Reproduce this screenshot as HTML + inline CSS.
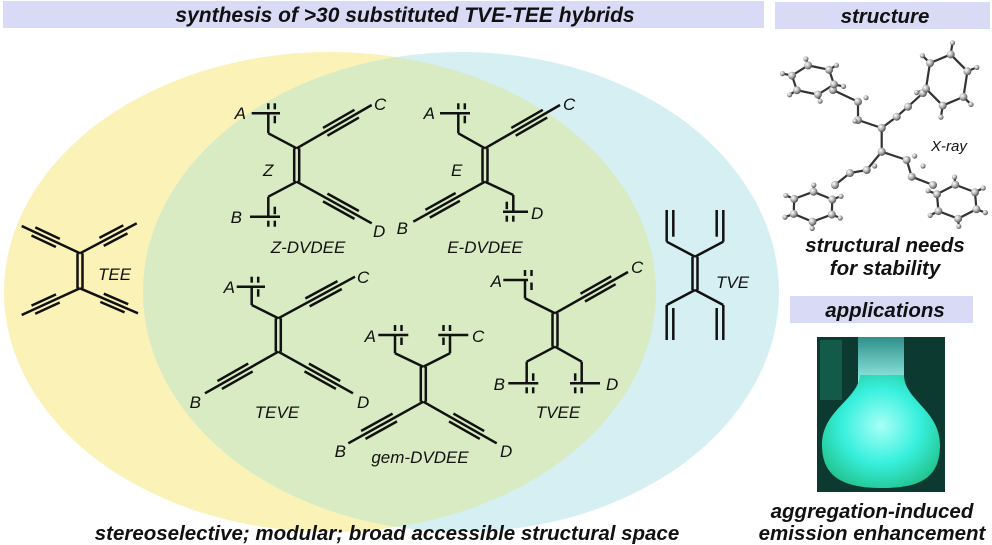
<!DOCTYPE html>
<html><head><meta charset="utf-8">
<style>
html,body{margin:0;padding:0;background:#fff;}
body{width:992px;height:545px;overflow:hidden;position:relative;font-family:"Liberation Sans",sans-serif;}
svg{position:absolute;left:0;top:0;}
text{font-family:"Liberation Sans",sans-serif;font-style:italic;}
.l{font-size:17px;fill:#111;}
.h{font-size:20.5px;font-weight:bold;fill:#111;}
</style></head>
<body>
<svg id="s" width="992" height="545" viewBox="0 0 992 545">
<defs>
<radialGradient id="ball" cx="35%" cy="35%" r="65%"><stop offset="0" stop-color="#fff"/><stop offset="0.6" stop-color="#aaa"/><stop offset="1" stop-color="#555"/></radialGradient>
<radialGradient id="glow" cx="50%" cy="45%" r="60%"><stop offset="0" stop-color="#a8fff6"/><stop offset="0.55" stop-color="#38f0de"/><stop offset="1" stop-color="#22c48e"/></radialGradient>
<linearGradient id="neck" x1="0" y1="0" x2="0" y2="1"><stop offset="0" stop-color="#2f8f8a"/><stop offset="1" stop-color="#9ff5ee"/></linearGradient>
<clipPath id="yc"><ellipse cx="330" cy="292" rx="326" ry="240"/></clipPath>
</defs>
<ellipse cx="330" cy="292" rx="326" ry="240" fill="#fbf2b8"/>
<ellipse cx="461" cy="292" rx="318" ry="240" fill="#d6eff2"/>
<ellipse cx="461" cy="292" rx="318" ry="240" fill="#d8ebc2" clip-path="url(#yc)"/>
<rect x="3" y="1" width="761" height="27" fill="#d9daf6"/>
<text class="h" x="405" y="22" text-anchor="middle" style="font-size:21px">synthesis of &gt;30 substituted TVE-TEE hybrids</text>
<rect x="775" y="2" width="215" height="27" fill="#d9daf6"/>
<text class="h" x="885" y="23" text-anchor="middle">structure</text>
<rect x="790" y="296" width="183" height="27" fill="#d9daf6"/>
<text class="h" x="885" y="317" text-anchor="middle">applications</text>
<text class="h" x="885" y="252" text-anchor="middle">structural needs</text>
<text class="h" x="885" y="275" text-anchor="middle">for stability</text>
<text class="h" x="872" y="518" text-anchor="middle">aggregation-induced</text>
<text class="h" x="872" y="540" text-anchor="middle">emission enhancement</text>
<text class="h" x="387" y="540" text-anchor="middle">stereoselective; modular; broad accessible structural space</text>
<text class="l" x="931" y="151" style="font-size:15px">X-ray</text>
<!-- flask photo -->
<rect x="817" y="337" width="128" height="155" fill="#0c3a30"/>
<rect x="820" y="340" width="22" height="60" fill="#145a48"/>
<rect x="858" y="337" width="46" height="50" fill="url(#neck)"/>
<path d="M860 375 C 858 400, 822 410, 822 445 C 822 478, 845 488, 882 488 C 920 488, 940 478, 940 445 C 940 410, 904 400, 904 375 Z" fill="url(#glow)"/>
<g id="mol" stroke="#111" stroke-width="2.5" fill="none" stroke-linecap="butt"></g>
<g id="xr"></g>
<g>
<text class="l" x="246" y="119" text-anchor="end">A</text>
<text class="l" x="374" y="110">C</text>
<text class="l" x="242" y="223" text-anchor="end">B</text>
<text class="l" x="373" y="237">D</text>
<text class="l" x="263" y="176">Z</text>
<text class="l" x="308" y="253" text-anchor="middle">Z-DVDEE</text>
<text class="l" x="435" y="119" text-anchor="end">A</text>
<text class="l" x="563" y="110">C</text>
<text class="l" x="408" y="234" text-anchor="end">B</text>
<text class="l" x="531" y="219">D</text>
<text class="l" x="451" y="176">E</text>
<text class="l" x="485" y="253" text-anchor="middle">E-DVDEE</text>
<text class="l" x="235" y="293" text-anchor="end">A</text>
<text class="l" x="357" y="283">C</text>
<text class="l" x="201" y="408" text-anchor="end">B</text>
<text class="l" x="357" y="408">D</text>
<text class="l" x="277" y="418" text-anchor="middle">TEVE</text>
<text class="l" x="376" y="342" text-anchor="end">A</text>
<text class="l" x="472" y="342">C</text>
<text class="l" x="346" y="457" text-anchor="end">B</text>
<text class="l" x="500" y="457">D</text>
<text class="l" x="420" y="463" text-anchor="middle">gem-DVDEE</text>
<text class="l" x="502" y="287" text-anchor="end">A</text>
<text class="l" x="631" y="273">C</text>
<text class="l" x="505" y="390" text-anchor="end">B</text>
<text class="l" x="606" y="390">D</text>
<text class="l" x="558" y="418" text-anchor="middle">TVEE</text>
<text class="l" x="98" y="280">TEE</text>
<text class="l" x="716" y="288">TVE</text>
</g>
</svg>
<script>
var g=document.getElementById('mol'),out='';
function L(a,b,c,d){out+='<line x1="'+a.toFixed(1)+'" y1="'+b.toFixed(1)+'" x2="'+c.toFixed(1)+'" y2="'+d.toFixed(1)+'"/>';}
function tri(x1,y1,x2,y2){L(x1,y1,x2,y2);var dx=x2-x1,dy=y2-y1,l=Math.hypot(dx,dy),nx=-dy/l*4.5,ny=dx/l*4.5;
 var a=0.38,b=0.8;[1,-1].forEach(function(s){L(x1+dx*a+s*nx,y1+dy*a+s*ny,x1+dx*b+s*nx,y1+dy*b+s*ny);});}
function dbl(x1,y1,x2,y2){L(x1-2.5,y1,x2-2.5,y2);L(x1+2.5,y1,x2+2.5,y2);}
function vin(cx,cy,px,py,by,bx1,bx2){L(cx,cy,px,py);var dir=by<py?-1:1;var off=(cx>px?1:-1)*6.5;
 L(px,py,px,by);L(bx1,by,bx2,by);L(px+off,by-dir*2.5,px+off,by-dir*10);
 L(px,by+dir*4,px,by+dir*10);L(px+off,by+dir*4,px+off,by+dir*10);}
dbl(296.7,148.3,296.7,181.7);vin(296.7,148.3,268.3,133.3,113.3,251.7,280);tri(296.7,148.3,371.7,105);
vin(296.7,181.7,268.3,196.7,216.7,250,280);tri(296.7,181.7,371.7,223.3);
dbl(485,148.3,485,181.7);vin(485,148.3,458.3,133.3,113.3,440,470);tri(485,148.3,560,105);
tri(485,181.7,413.3,221.7);vin(485,181.7,513.3,195,211.7,503,528);
dbl(278.3,318.3,278.3,351.7);vin(278.3,318.3,251.7,305,286.7,236.7,265);tri(278.3,318.3,355,276.7);
tri(278.3,351.7,205,393.3);tri(278.3,351.7,353,393.3);
dbl(423.3,366.7,423.3,401.7);vin(423.3,366.7,395,353.3,335,378.3,408.3);vin(423.3,366.7,450,353.3,335,438.3,468.3);
tri(423.3,401.7,348.3,443.3);tri(423.3,401.7,496.7,443.3);
dbl(555,313.3,555,346.7);vin(555,313.3,525,298.3,280,503.3,528);tri(555,313.3,628,272);
vin(555,346.7,526.7,361.7,383.3,508.3,538.3);vin(555,346.7,581.7,361.7,383.3,570,600);
dbl(80,253.3,80,288.3);tri(80,253.3,21.7,226);tri(80,253.3,136.7,223.3);tri(80,288.3,21.7,315);tri(80,288.3,138,313.3);
dbl(695,256.7,695,290);
[[666.7,673.3],[723.3,716.7]].forEach(function(p){L(695,256.7,p[0],241.7);L(p[0],241.7,p[0],210);L(p[1],210,p[1],236.7);
 L(695,290,p[0],305);L(p[0],305,p[0],340);L(p[1],308,p[1],340);});
g.innerHTML=out;
var x='',atoms=[];
function S(a,b,c,d){x+='<line x1="'+a+'" y1="'+b+'" x2="'+c+'" y2="'+d+'" stroke="#333" stroke-width="2.2"/>';}
function A(a,b,r){atoms.push([a,b,r]);}
S(881.7,128,881.7,151.7);
function path(pts){for(var i=0;i<pts.length-1;i++)S(pts[i][0],pts[i][1],pts[i+1][0],pts[i+1][1]);pts.forEach(function(p){A(p[0],p[1],4);});}
function ring(cx,cy,rx,ry,ph){var p=[];for(var i=0;i<6;i++){var t=ph+i*Math.PI/3;p.push([cx+rx*Math.cos(t),cy+ry*Math.sin(t)]);}
 for(i=0;i<6;i++){var a=p[i],b=p[(i+1)%6];S(a[0],a[1],b[0],b[1]);var hx=cx+rx*1.45*Math.cos(ph+i*Math.PI/3),hy=cy+ry*1.45*Math.sin(ph+i*Math.PI/3);S(a[0],a[1],hx,hy);A(hx,hy,2.6);A(a[0],a[1],4);}}
path([[881.7,128],[858,120],[858,101.7],[833,90]]);ring(813,80,22,15,0.3);
path([[881.7,128],[896.7,116.7],[908,106.7],[923,93]]);ring(946.7,80,22,26,2.8);
path([[881.7,151.7],[866.7,170],[850,173],[835,185]]);ring(813,206.7,22,15,-0.5);
path([[881.7,151.7],[906.7,160],[911.7,176.7],[933,185]]);ring(956.7,201.7,22,17,3.6);
[[858,101.7],[866.7,170],[906.7,160],[847,125],[915,170]].forEach(function(p){A(p[0]+8,p[1]-4,2.6);});
atoms.forEach(function(a){x+='<circle cx="'+a[0].toFixed(1)+'" cy="'+a[1].toFixed(1)+'" r="'+a[2]+'" fill="url(#ball)"/>';});
document.getElementById('xr').innerHTML=x;
</script>
</body></html>
